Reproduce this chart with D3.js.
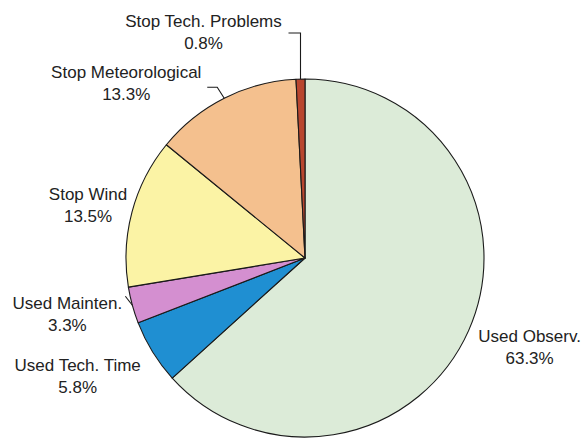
<!DOCTYPE html>
<html>
<head>
<meta charset="utf-8">
<script src="https://cdn.jsdelivr.net/npm/d3@7"></script>
<style>
  html, body { margin: 0; padding: 0; background: #fff; }
  svg { display: block; font-family: "Liberation Sans", Arial, sans-serif; }
</style>
</head>
<body>
<div id="pie-container"></div>
<script>
// data, clockwise from 12 o'clock
const categories = ["Used Observ.", "Used Tech. Time", "Used Mainten.", "Stop Wind", "Stop Meteorological", "Stop Tech. Problems"];
const shares = [63.3, 5.8, 3.3, 13.5, 13.3, 0.8];
const colors = ["#dcebd8", "#1f8fd2", "#d48fd0", "#fbf3a5", "#f4c08e", "#b9462f"];

// label placement relative to the slice's outer mid point
const labelOffset = [[61, 11], [-75, 19], [-65, 4], [-44, -12], [-98, -20], [-97, -52]];
// leader lines (elbow offsets from the outer mid point), null = none
const leaderElbows = [null, null, [[-7, -9]], null, [[-7, -11], [-17, -11]], [[0, -46], [-12, -46]]];

const width = 584;
const height = 438;
const cx = 305;
const cy = 258;
const radius = 179;
const lineGap = 22;

const svg = d3.select("#pie-container")
    .append("svg")
    .attr("width", width)
    .attr("height", height);

const graph = svg.append("g")
    .attr("transform", `translate(${cx},${cy})`);

const data = categories.map((c, i) => ({ name: c, value: shares[i], color: colors[i], idx: i }));

const pie = d3.pie()
    .sort(null)
    .value(d => d.value);

const arc = d3.arc()
    .innerRadius(0)
    .outerRadius(radius);

const arcs = pie(data);

graph.selectAll("path.slice")
    .data(arcs)
    .enter()
    .append("path")
    .attr("class", "slice")
    .attr("d", arc)
    .attr("fill", d => d.data.color)
    .attr("stroke", "#1a1a1a")
    .attr("stroke-width", 1.1)
    .attr("stroke-linejoin", "round");

// point on the rim at the middle angle of a slice
function rimPoint(d) {
    const a = (d.startAngle + d.endAngle) / 2;
    return [Math.sin(a) * radius, -Math.cos(a) * radius];
}

// leader lines
arcs.forEach(d => {
    const elbows = leaderElbows[d.data.idx];
    if (!elbows) return;
    const p = rimPoint(d);
    const pts = [p].concat(elbows.map(e => [p[0] + e[0], p[1] + e[1]]));
    graph.append("path")
        .attr("d", d3.line()(pts))
        .attr("fill", "none")
        .attr("stroke", "#1a1a1a")
        .attr("stroke-width", 1.1);
});

// labels
arcs.forEach(d => {
    const p = rimPoint(d);
    const off = labelOffset[d.data.idx];
    const text = graph.append("text")
        .attr("x", p[0] + off[0])
        .attr("y", p[1] + off[1])
        .attr("text-anchor", "middle")
        .attr("fill", "#222")
        .style("font-size", "17px");
    text.append("tspan")
        .attr("x", p[0] + off[0])
        .text(d.data.name);
    text.append("tspan")
        .attr("x", p[0] + off[0])
        .attr("dy", lineGap)
        .text(d3.format(".1f")(d.data.value) + "%");
});
</script>
</body>
</html>
